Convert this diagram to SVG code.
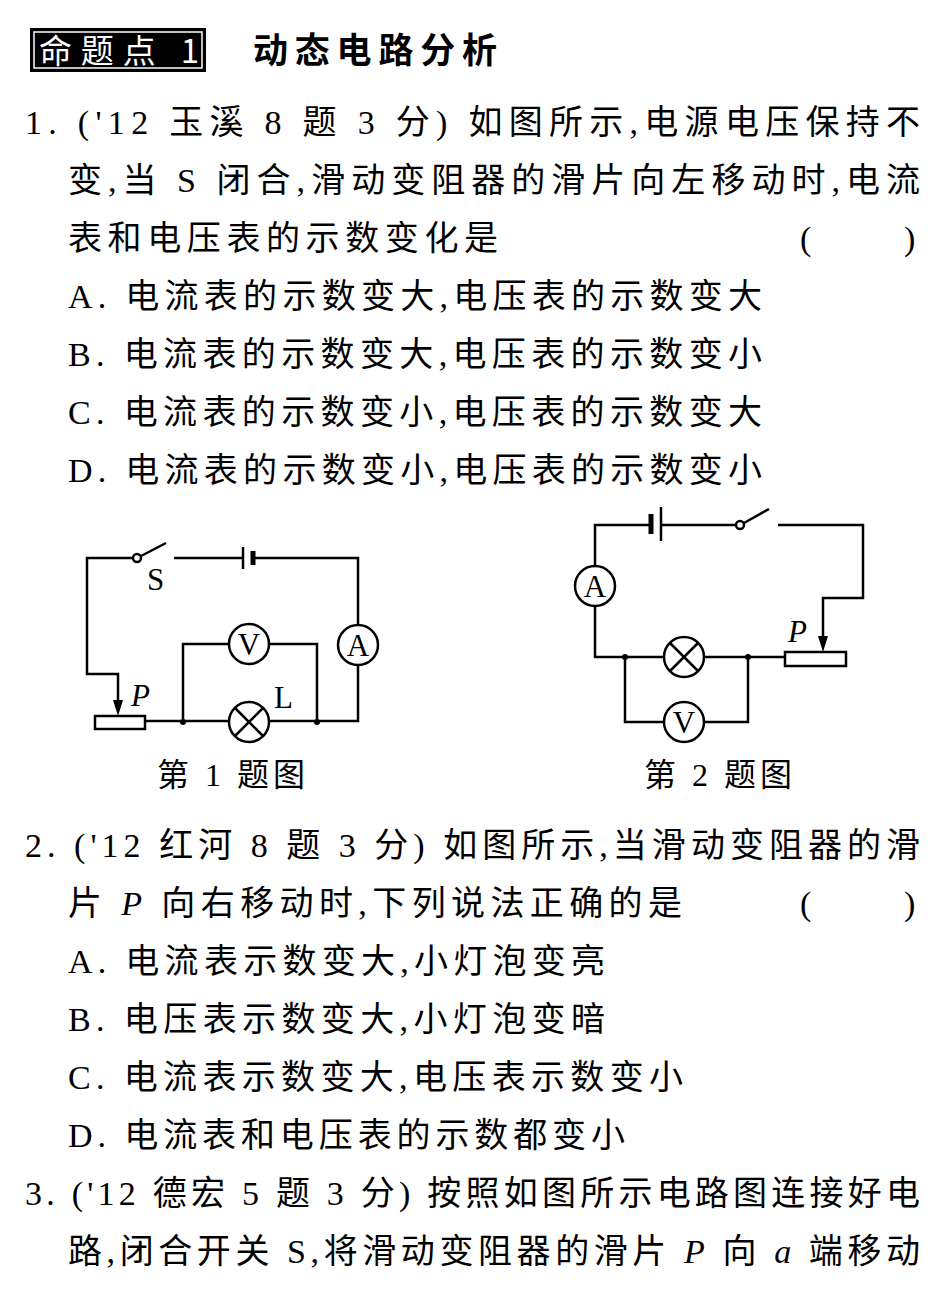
<svg xmlns="http://www.w3.org/2000/svg" width="950" height="1293" viewBox="0 0 950 1293">
<style>
.t{font-family:"Liberation Serif","Noto Sans CJK SC",serif;font-size:34px;fill:#000}
.c{font-family:"Liberation Serif","Noto Sans CJK SC",serif;font-size:32px;fill:#000}
.w{fill:none;stroke:#000;stroke-width:2.5}
.m{fill:#fff;stroke:#000;stroke-width:2.5}
.l{font-family:"Liberation Serif",serif;font-size:31px;fill:#000}
</style>
<rect width="950" height="1293" fill="#fff"/>
<rect x="30" y="28" width="176" height="44" fill="#000"/>
<rect x="34" y="32" width="168" height="36" fill="none" stroke="#fff" stroke-width="1.5"/>
<text x="39" y="63" font-family="Noto Sans CJK SC,sans-serif" font-size="33" fill="#fff" textLength="160">命题点 1</text>
<text x="253" y="63" font-family="Noto Sans CJK SC,sans-serif" font-size="35" font-weight="bold" textLength="244">动态电路分析</text>
<text class="t" x="25" y="134" textLength="895">1. ('12 玉溪 8 题 3 分) 如图所示,电源电压保持不</text>
<text class="t" x="68" y="192" textLength="852">变,当 S 闭合,滑动变阻器的滑片向左移动时,电流</text>
<text class="t" x="68" y="250" textLength="430">表和电压表的示数变化是</text>
<text class="t" x="800" y="250">(</text><text class="t" x="904" y="250">)</text>
<text class="t" x="68" y="308" textLength="694">A. 电流表的示数变大,电压表的示数变大</text>
<text class="t" x="68" y="366" textLength="694">B. 电流表的示数变大,电压表的示数变小</text>
<text class="t" x="68" y="424" textLength="694">C. 电流表的示数变小,电压表的示数变大</text>
<text class="t" x="68" y="482" textLength="694">D. 电流表的示数变小,电压表的示数变小</text>
<g id="circuit1">
<path class="w" d="M133,558 H87 V674 H118 V704 M141,556 L166,543 M174,558 H243 M253,558 H358 V721 H145 M183,722 V644 H317 V722"/>
<line x1="243" y1="547" x2="243" y2="569" stroke="#000" stroke-width="2.5"/>
<line x1="253" y1="551" x2="253" y2="565" stroke="#000" stroke-width="5"/>
<circle class="m" cx="137" cy="558" r="4"/>
<path d="M113,700 L123,700 L118,716 z"/>
<rect class="m" x="95" y="716" width="50" height="13"/>
<circle cx="183" cy="722" r="3"/><circle cx="317" cy="722" r="3"/>
<circle class="m" cx="358" cy="645" r="20"/><text class="l" x="358" y="656" text-anchor="middle">A</text>
<circle class="m" cx="249" cy="644" r="20"/><text class="l" x="249" y="655" text-anchor="middle">V</text>
<circle class="m" cx="249" cy="722" r="20"/>
<path class="w" d="M235,708 L263,736 M263,708 L235,736"/>
<text class="l" x="147" y="590">S</text><text class="l" x="274" y="708">L</text>
<text class="l" x="131" y="706" font-style="italic">P</text>
<text class="c" x="157" y="786" textLength="148">第 1 题图</text>
</g>
<g id="circuit2">
<path class="w" d="M651,525 H595 V566 M595,606 V657 H785 M661,525 H736 M744,523 L769,509 M778,525 H863 V598 H823 V636 M625,657 V722 H748 V657"/>
<line x1="651" y1="514" x2="651" y2="534" stroke="#000" stroke-width="5"/>
<line x1="661" y1="507" x2="661" y2="541" stroke="#000" stroke-width="2.5"/>
<circle class="m" cx="740" cy="525" r="4"/>
<path d="M818,636 L828,636 L823,652 z"/>
<rect class="m" x="785" y="652" width="61" height="14"/>
<circle cx="625" cy="657" r="3"/><circle cx="748" cy="657" r="3"/>
<circle class="m" cx="595" cy="586" r="20"/><text class="l" x="595" y="597" text-anchor="middle">A</text>
<circle class="m" cx="684" cy="657" r="20"/>
<path class="w" d="M670,643 L698,671 M698,643 L670,671"/>
<circle class="m" cx="684" cy="722" r="20"/><text class="l" x="684" y="733" text-anchor="middle">V</text>
<text class="l" x="788" y="642" font-style="italic">P</text>
<text class="c" x="644" y="786" textLength="148">第 2 题图</text>
</g>
<text class="t" x="25" y="857" textLength="895">2. ('12 红河 8 题 3 分) 如图所示,当滑动变阻器的滑</text>
<text class="t" x="68" y="915" textLength="614">片 <tspan font-style="italic">P</tspan> 向右移动时,下列说法正确的是</text>
<text class="t" x="800" y="915">(</text><text class="t" x="904" y="915">)</text>
<text class="t" x="68" y="973" textLength="537">A. 电流表示数变大,小灯泡变亮</text>
<text class="t" x="68" y="1031" textLength="537">B. 电压表示数变大,小灯泡变暗</text>
<text class="t" x="68" y="1089" textLength="615">C. 电流表示数变大,电压表示数变小</text>
<text class="t" x="68" y="1147" textLength="557">D. 电流表和电压表的示数都变小</text>
<text class="t" x="25" y="1205" textLength="895">3. ('12 德宏 5 题 3 分) 按照如图所示电路图连接好电</text>
<text class="t" x="68" y="1263" textLength="852">路,闭合开关 S,将滑动变阻器的滑片 <tspan font-style="italic">P</tspan> 向 <tspan font-style="italic">a</tspan> 端移动</text>
</svg>
